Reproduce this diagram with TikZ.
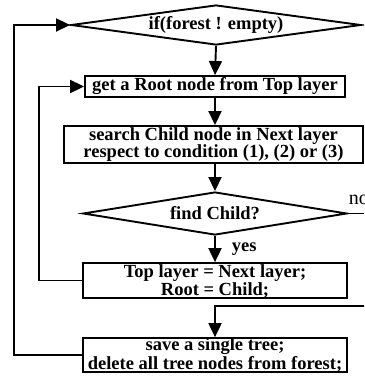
\documentclass[tikz,border=0pt]{standalone}
\usepackage{fontspec}
\setmainfont{Liberation Serif}
\usetikzlibrary{arrows.meta,shapes.geometric}

\begin{document}
\begin{tikzpicture}[
  x=1pt, y=1pt,
  font=\fontsize{18.5}{16.5}\selectfont\bfseries,
  line width=1.9pt,
  box/.style={draw, rectangle, align=center, inner sep=0pt},
  cond/.style={draw, diamond, align=center, inner sep=0pt},
  arr/.style={-{Triangle[length=14pt,width=13pt]}},
  lbl/.style={inner sep=0pt}
]
\path[use as bounding box, clip] (0,0) rectangle (364,-377);

\node[cond, minimum width=290pt, minimum height=40pt, aspect=7.25] (forest) at (216,-25) {if(forest ! empty)};
\node[box, minimum width=260pt, minimum height=21pt] (root) at (215,-86.5) {get a Root node from Top layer};
\node[box, minimum width=299pt, minimum height=37pt] (search) at (213.5,-144.5)
  {search Child node in Next layer\\respect to condition (1), (2) or (3)};
\node[cond, minimum width=264pt, minimum height=43pt, aspect=6.1] (find) at (215,-213.5) {find Child?};
\node[box, minimum width=264pt, minimum height=33pt, text height=32pt] (upd) at (215,-280.5)
  {Top layer = Next layer;\\Root = Child;};
\node[box, minimum width=264pt, minimum height=32pt] (save) at (215,-355)
  {save a single tree;\\delete all tree nodes from forest;};

% main column
\draw[arr] (forest.south) -- (root.north);
\draw[arr] (root.south) -- (root.south |- search.north);
\draw[arr] (search.south -| find.north) -- (find.north);
\draw[arr] (find.south) -- node[lbl, right=16pt] {yes} (upd.north);

% no child found: leave on the right and come back above the save box
\draw[arr] (find.east)
  -- node[lbl, pos=0, anchor=base west, yshift=9pt, font=\fontsize{20}{20}\selectfont\mdseries] {no} ++(30,0)
  |- ([yshift=31pt]save.north) -- (save.north);

% loops back on the left
\draw[arr] (upd.west) -- ++(-43,0) |- (root.west);
\draw[arr] (save.west) -- ++(-68,0) |- (forest.west);
\end{tikzpicture}
\end{document}
